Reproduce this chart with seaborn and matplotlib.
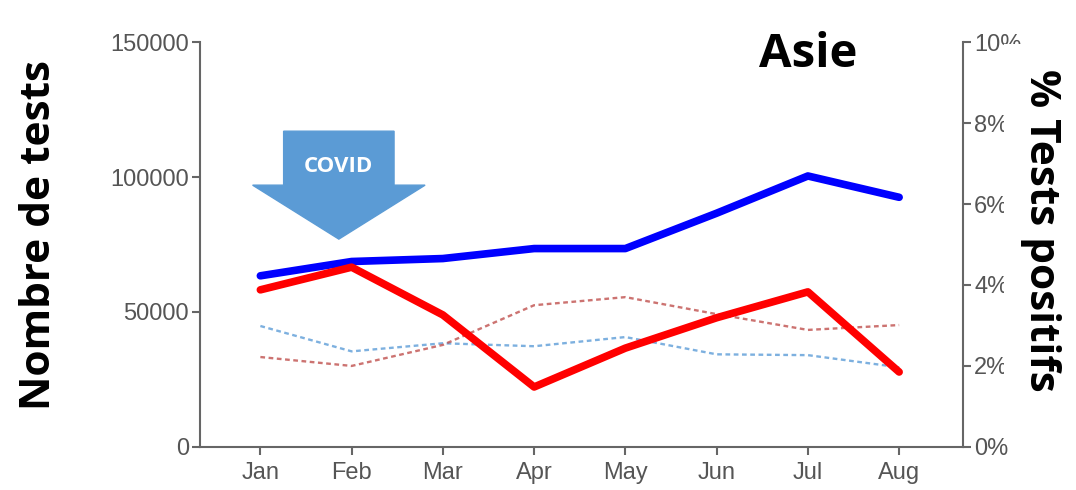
import matplotlib
matplotlib.use("Agg")
import matplotlib.pyplot as plt
from matplotlib.patches import FancyArrow, Rectangle
import seaborn as sns
import pandas as pd

months = ["Jan", "Feb", "Mar", "Apr", "May", "Jun", "Jul", "Aug"]
tests_2020 = [63400, 68700, 69800, 73500, 73500, 86600, 100400, 92500]
tests_2019 = [44800, 35400, 38400, 37300, 40700, 34300, 34000, 29500]
pos_2020 = [3.88, 4.44, 3.26, 1.48, 2.44, 3.19, 3.83, 1.85]
pos_2019 = [2.22, 2.00, 2.52, 3.50, 3.70, 3.28, 2.89, 3.01]

left_ticks = [0, 50000, 100000, 150000]
right_ticks = [0, 2, 4, 6, 8, 10]

df = pd.DataFrame({
    "month": months,
    "x": range(len(months)),
    "tests_2020": tests_2020,
    "tests_2019": tests_2019,
    "pos_2020": pos_2020,
    "pos_2019": pos_2019,
})

sns.set_style("ticks")
plt.rcParams["font.family"] = ["Liberation Sans", "DejaVu Sans"]
title_font = ["Open Sans", "DejaVu Sans"]

fig = plt.figure(figsize=(10.76, 4.9), dpi=100)
ax = fig.add_axes([0.186, 0.088, 0.709, 0.826])
ax2 = ax.twinx()

grey = "#666666"

# previous-year dashed lines (thin)
sns.lineplot(data=df, x="x", y="tests_2019", ax=ax, color="#6fa8dc",
             linestyle=(0, (2, 1.5)), linewidth=1.7, alpha=0.9)
sns.lineplot(data=df, x="x", y="pos_2019", ax=ax2, color="#c0504d",
             linestyle=(0, (2, 1.5)), linewidth=1.7, alpha=0.8)

# current year thick lines
sns.lineplot(data=df, x="x", y="tests_2020", ax=ax, color="#0000ff", linewidth=5.5)
sns.lineplot(data=df, x="x", y="pos_2020", ax=ax2, color="#ff0000", linewidth=5.5)

ax.set_xlim(-0.66, 7.7)
ax.set_ylim(0, 150000)
ax2.set_ylim(0, 10)

ax.set_xticks(range(len(months)))
ax.set_xticklabels(months)
ax.set_yticks(left_ticks)
ax.set_yticklabels([str(v) for v in left_ticks])
ax2.set_yticks(right_ticks)
ax2.set_yticklabels([f"{v}%" for v in right_ticks])

for a in (ax, ax2):
    a.spines["top"].set_visible(False)
    for s in ("left", "bottom", "right"):
        a.spines[s].set_color(grey)
        a.spines[s].set_linewidth(1.5)
    a.tick_params(colors=grey, labelcolor="#555555", labelsize=17,
                  width=1.5, length=6, pad=2)
ax.spines["right"].set_visible(False)
ax2.spines["left"].set_visible(False)
ax2.spines["bottom"].set_visible(False)
ax.tick_params(axis="x", pad=5)
ax.set_xlabel("")
ax.set_ylabel("")
ax2.set_ylabel("")

# white box behind the right title (clips the right tick labels like the original)
fig.patches.append(Rectangle((0.933, 0.175), 0.067, 0.735, transform=fig.transFigure,
                             facecolor="white", edgecolor="none", zorder=5))

fig.text(0.037, 0.52, "Nombre de tests", rotation=90, ha="center", va="center",
         fontsize=30.5, fontweight="bold", color="black", family=title_font)
fig.text(0.967, 0.53, "% Tests positifs", rotation=-90, ha="center", va="center",
         fontsize=30.5, fontweight="bold", color="black", family=title_font, zorder=6)
fig.text(0.751, 0.888, "Asie", ha="center", va="center",
         fontsize=34, fontweight="bold", color="black", family=title_font)

# COVID arrow in data coordinates of the left axis
arrow = FancyArrow(0.86, 117000, 0, -40000, width=1.21, head_width=1.89,
                   head_length=20000, length_includes_head=True,
                   color="#5b9bd5", transform=ax.transData, zorder=5)
ax.add_patch(arrow)
ax.text(0.86, 104000, "COVID", ha="center", va="center", color="white",
        fontsize=16, fontweight="bold", family=title_font, zorder=6)

fig.savefig("out.png", dpi=100)
